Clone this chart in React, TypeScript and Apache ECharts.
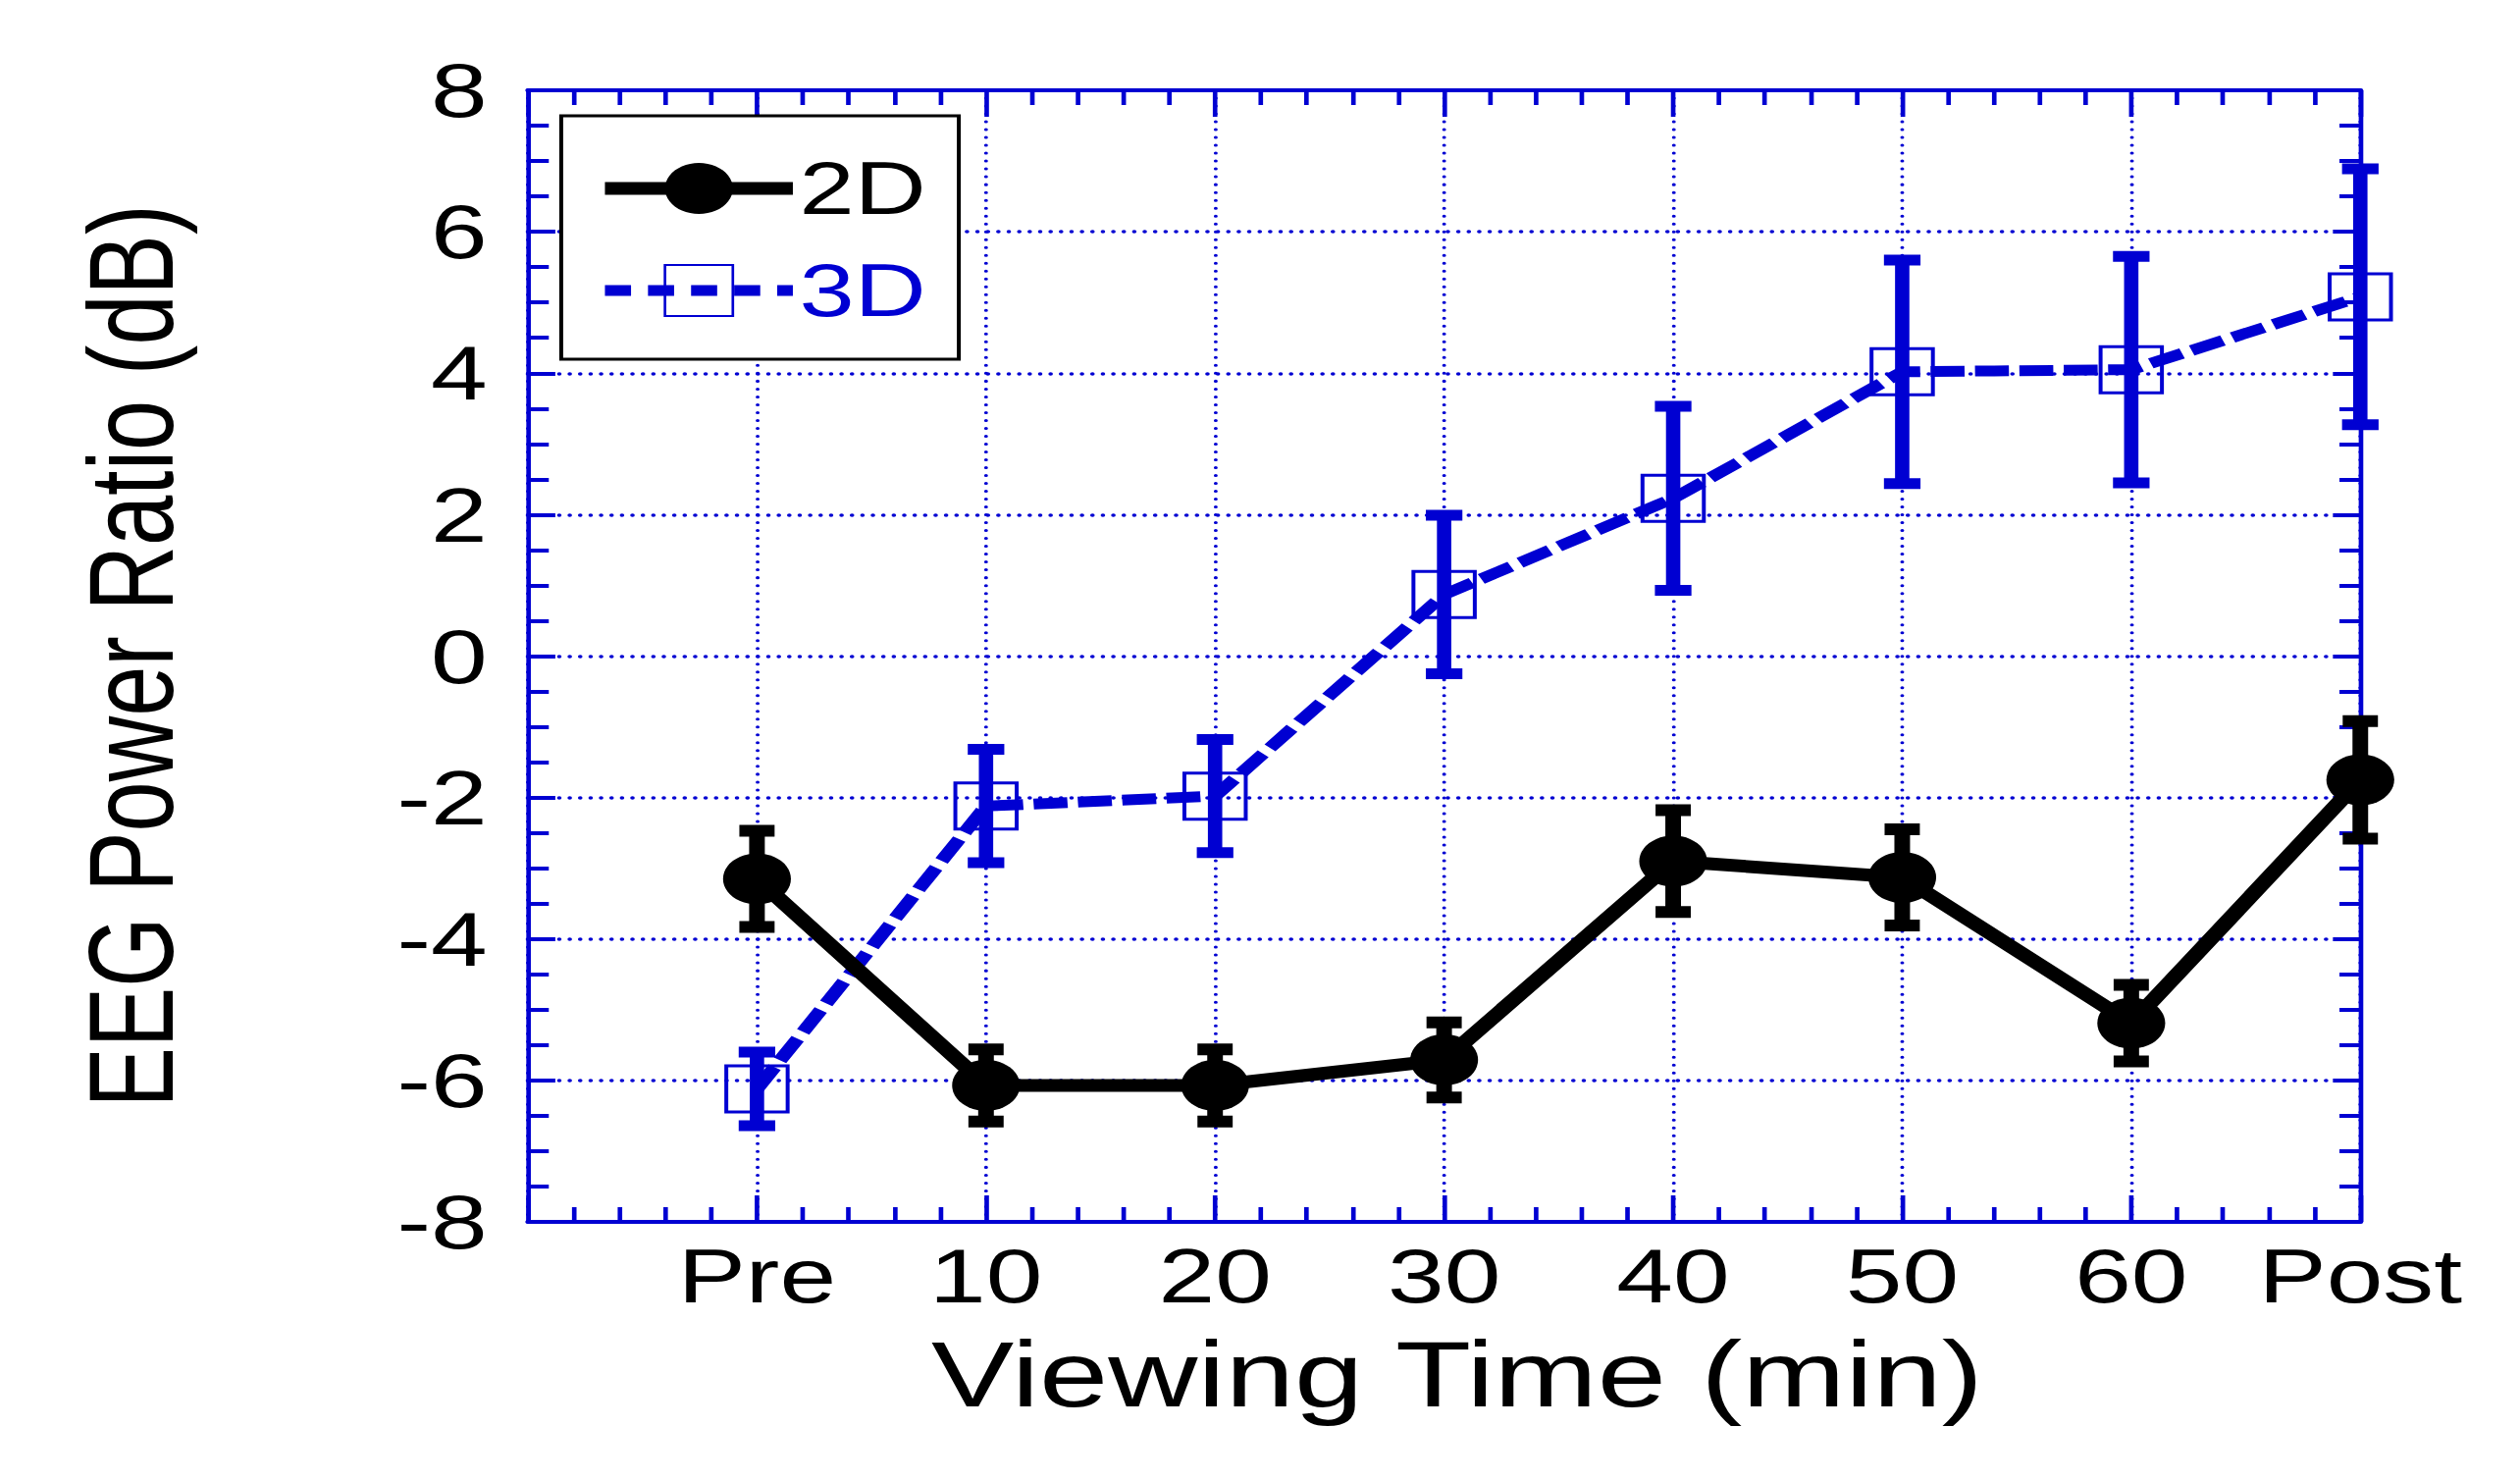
import React, { useEffect, useRef } from 'react';
import * as echarts from 'echarts';

// ---- data ----
const categories = ['Pre', '10', '20', '30', '40', '50', '60', 'Post'];
const mean2D = [-3.15, -6.07, -6.07, -5.71, -2.9, -3.13, -5.19, -1.75];
const err2D = [0.68, 0.51, 0.51, 0.53, 0.72, 0.68, 0.54, 0.83];
const mean3D = [-6.12, -2.12, -1.98, 0.87, 2.23, 4.02, 4.05, 5.08];
const err3D = [0.52, 0.8, 0.8, 1.12, 1.3, 1.58, 1.6, 1.81];
const yTicks = { min: -8, max: 8, step: 2 };

// ---- style ----
const S = 1.33; // horizontal stretch of the original figure
const W0 = 2568 / S;
const BLUE = '#0000D2';
const FONT = '"Liberation Sans", Arial, sans-serif';

const pts = (m: number[]) => m.map((v, i) => [i + 1, v]);
const errData = (m: number[], e: number[]) => m.map((v, i) => [i + 1, v - e[i], v + e[i]]);

const errSeries = (name: string, m: number[], e: number[], color: string, lw: number, capW: number) => ({
  name,
  type: 'custom',
  data: errData(m, e),
  encode: { x: 0, y: [1, 2] },
  clip: false,
  silent: true,
  renderItem: (params: any, api: any) => {
    const x = api.value(0);
    const lo = api.coord([x, api.value(1)]);
    const hi = api.coord([x, api.value(2)]);
    const h = capW / 2;
    return {
      type: 'group',
      children: [
        { type: 'line', shape: { x1: lo[0], y1: lo[1], x2: hi[0], y2: hi[1] }, style: { stroke: color, lineWidth: lw } },
        { type: 'line', shape: { x1: lo[0] - h, y1: lo[1], x2: lo[0] + h, y2: lo[1] }, style: { stroke: color, lineWidth: lw } },
        { type: 'line', shape: { x1: hi[0] - h, y1: hi[1], x2: hi[0] + h, y2: hi[1] }, style: { stroke: color, lineWidth: lw } },
      ],
    };
  },
});

const baseX = {
  type: 'value',
  min: 0,
  max: 8,
  interval: 1,
  axisLine: { show: true, onZero: false, lineStyle: { color: BLUE, width: 4 } },
  axisTick: { show: true, inside: true, length: 27, lineStyle: { color: BLUE, width: 3.5 } },
  minorTick: { show: true, splitNumber: 5, length: 15, lineStyle: { color: BLUE, width: 3.5 } },
};
const baseY = {
  type: 'value',
  min: yTicks.min,
  max: yTicks.max,
  interval: yTicks.step,
  axisLine: { show: true, onZero: false, lineStyle: { color: BLUE, width: 3.5 } },
  axisTick: { show: true, inside: true, length: 21, lineStyle: { color: BLUE, width: 4 } },
  minorTick: { show: true, splitNumber: 4, length: 16, lineStyle: { color: BLUE, width: 4 } },
};

const option: any = {
  animation: false,
  backgroundColor: '#fff',
  grid: { left: 404.5, right: W0 - 1808.3, top: 92, bottom: 1508 - 1245, containLabel: false, outerBoundsMode: 'none' },
  legend: {
    orient: 'vertical',
    left: 430,
    top: 118,
    padding: [36, 25, 32, 27],
    itemWidth: 144,
    itemHeight: 65,
    itemGap: 28,
    borderColor: '#000',
    borderWidth: 3,
    borderRadius: 0,
    backgroundColor: '#fff',
    textStyle: { fontSize: 76, fontFamily: FONT, lineHeight: 65 },
    data: [
      { name: '2D', textStyle: { color: '#000' }, lineStyle: { width: 13, color: '#000' } },
      { name: '3D', textStyle: { color: BLUE }, lineStyle: { width: 11, color: BLUE, type: [20, 13] } },
    ],
  },
  xAxis: [
    {
      ...baseX,
      position: 'bottom',
      name: 'Viewing Time (min)',
      nameLocation: 'middle',
      nameGap: 108,
      nameTextStyle: { fontSize: 95, color: '#000', fontFamily: FONT, padding: [0, 0, 0, 20] },
      axisLabel: {
        show: true,
        margin: 16,
        fontSize: 78,
        color: '#000',
        fontFamily: FONT,
        formatter: (v: number) => categories[v - 1] ?? '',
      },
      splitLine: { show: true, lineStyle: { color: BLUE, width: 3, type: [0.01, 8], cap: 'round' } },
    },
    {
      ...baseX,
      position: 'top',
      axisLabel: { show: false },
      splitLine: { show: false },
    },
  ],
  yAxis: [
    {
      ...baseY,
      position: 'left',
      name: 'EEG Power Ratio (dB)',
      nameLocation: 'middle',
      nameGap: 258,
      nameTextStyle: { fontSize: 92, color: '#000', fontFamily: FONT },
      axisLabel: { show: true, margin: 31, fontSize: 78, color: '#000', fontFamily: FONT, padding: [0, 0, 22, 0] },
      splitLine: { show: true, lineStyle: { color: BLUE, width: 3.5, type: [0.01, 8], cap: 'round' } },
    },
    {
      ...baseY,
      position: 'right',
      axisLabel: { show: false },
      splitLine: { show: false },
    },
  ],
  series: [
    {
      name: '3D',
      type: 'line',
      data: pts(mean3D),
      symbol: 'rect',
      symbolSize: 47,
      clip: false,
      lineStyle: { color: BLUE, width: 11, type: [26, 8], cap: 'butt' },
      itemStyle: { color: 'rgba(0,0,0,0)', borderColor: BLUE, borderWidth: 3 },
      z: 3,
    },
    { ...errSeries('3D error', mean3D, err3D, BLUE, 11, 28), z: 4 },
    {
      name: '2D',
      type: 'line',
      data: pts(mean2D),
      symbol: 'circle',
      symbolSize: 52,
      clip: false,
      lineStyle: { color: '#000', width: 13 },
      itemStyle: { color: '#000', borderWidth: 0 },
      z: 5,
    },
    { ...errSeries('2D error', mean2D, err2D, '#000', 12, 27), z: 6 },
  ],
};

export default function App() {
  const ref = useRef<HTMLDivElement>(null);
  useEffect(() => {
    const chart = echarts.init(ref.current as HTMLDivElement, null, { renderer: 'svg' });
    chart.setOption(option);
    return () => chart.dispose();
  }, []);
  return (
    <div style={{ position: 'absolute', left: 0, top: 0, width: 2568, height: 1508, overflow: 'hidden', background: '#fff' }}>
      <div ref={ref} style={{ width: W0, height: 1508, transform: `scaleX(${S})`, transformOrigin: '0 0' }} />
    </div>
  );
}
